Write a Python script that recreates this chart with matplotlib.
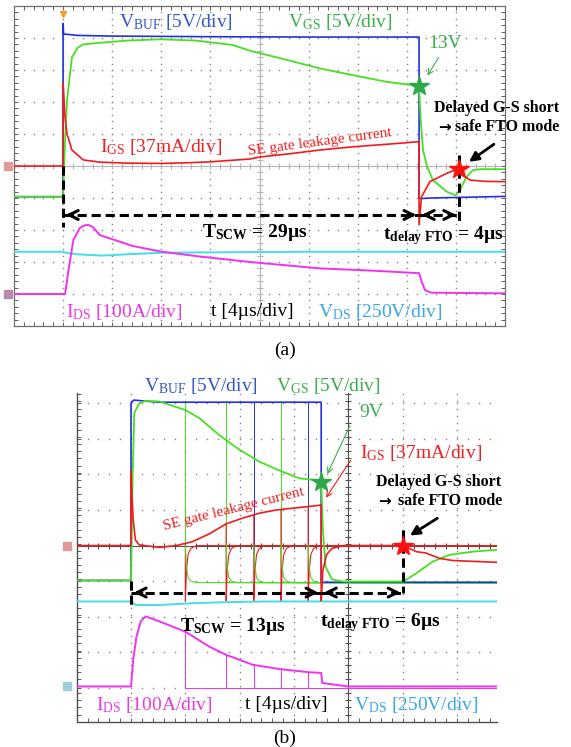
import numpy as np
import matplotlib
matplotlib.use('Agg')
from matplotlib import pyplot as plt

# ---- panel (a): all values in scope divisions (x: 0..10, y: -5..5) ----
A_VBUF_X = [0, 1.0, 1.0, 1.01, 1.05, 1.3, 2.0, 4.0, 6.0, 8.25, 8.25, 8.5, 10]
A_VBUF_Y = [-0.96, -0.96, 4.45, 4.12, 4.12, 4.08, 4.06, 4.04, 4.03, 4.03, -1.02, -1.0, -0.95]

A_VGS_X = [0, 1.0, 1.04, 1.08, 1.18, 1.3, 1.41, 1.75, 2.3, 3.0, 3.7, 4.46, 4.81, 5.34,
           6.23, 6.9, 7.59, 8.25, 8.28, 8.33, 8.41, 8.53, 8.81, 9.0, 9.1, 9.22, 9.35, 9.5, 10]
A_VGS_Y = [-0.96, -0.96, 0.8, 2.06, 3.4, 3.7, 3.8, 3.85, 3.92, 3.96, 3.92, 3.78, 3.6, 3.4,
           3.05, 2.84, 2.63, 2.5, 1.5, 0.5, 0.0, -0.44, -0.8, -0.92, -0.7, -0.33, -0.13, -0.1, -0.1]

A_IGS_X = [0, 1.0, 1.0, 1.04, 1.08, 1.18, 1.41, 1.75, 2.3, 3.01, 3.5, 4.0, 4.81, 5.0, 5.6,
           6.23, 6.9, 7.6, 8.25, 8.25, 8.3, 8.47, 8.81, 9.0, 9.06, 9.15, 9.29, 9.6, 10]
A_IGS_Y = [0, 0, 2.6, 1.5, 1.0, 0.5, 0.19, 0.12, 0.09, 0.08, 0.1, 0.13, 0.22, 0.28, 0.38,
           0.5, 0.6, 0.68, 0.76, -1.84, -0.96, -0.49, -0.23, -0.12, -0.1, -0.3, -0.44, -0.48, -0.49]

A_IDS_X = [0, 1.04, 1.11, 1.21, 1.34, 1.43, 1.51, 1.6, 1.75, 2.42, 3.01, 3.79, 4.81, 6.23,
           7.3, 8.25, 8.3, 8.37, 8.5, 10]
A_IDS_Y = [-4.0, -4.0, -3.25, -2.31, -1.94, -1.86, -1.84, -1.9, -2.16, -2.5, -2.68, -2.83,
           -3.0, -3.2, -3.27, -3.35, -3.6, -3.88, -3.96, -3.98]

A_VDS_X = [0, 1.0, 1.08, 1.3, 1.79, 2.42, 3.0, 4.8, 6.0, 10]
A_VDS_Y = [-2.68, -2.68, -2.72, -2.76, -2.8, -2.75, -2.71, -2.69, -2.68, -2.68]

A_STAR_VGS = (8.25, 2.5)
A_STAR_IGS = (9.06, -0.1)
A_T_ON, A_T_OFF, A_T_FTO = 1.0, 8.25, 9.06

# ---- panel (b): x relative to screen centre (-5..2.73), y -4.95..4.3 ----
B_VBUF_X = [-5, -4.0, -4.0, -3.95, -3.8, -3.5, -2.0, -0.5, -0.5, 0, 2.73]
B_VBUF_Y = [-0.98, -0.98, 4.0, 4.09, 4.07, 4.03, 4.03, 4.03, -1.03, -1.03, -1.03]

B_VGS_X = [-5, -4.0, -3.97, -3.94, -3.85, -3.73, -3.48, -3.0, -2.74, -2.38, -2.0, -1.64,
           -1.27, -0.9, -0.66, -0.5, -0.47, -0.42, -0.3, -0.1, 1.01, 1.25, 1.55, 1.86, 2.29, 2.73]
B_VGS_Y = [-0.98, -0.98, 2.0, 3.73, 4.0, 4.07, 4.05, 3.81, 3.58, 3.11, 2.69, 2.36,
           2.11, 1.89, 1.85, 1.8, 0.5, -0.6, -0.95, -1.01, -1.01, -0.78, -0.45, -0.26, -0.17, -0.12]

B_IGS_X = [-5, -4.0, -4.0, -3.98, -3.96, -3.92, -3.85, -3.48, -3.17, -2.87, -2.56, -2.25,
           -1.95, -1.64, -1.33, -1.03, -0.72, -0.5, -0.5, -0.47, -0.4, -0.3, -0.1, 1.01,
           1.25, 1.43, 1.68, 1.92, 2.73]
B_IGS_Y = [0, 0, 2.1, 1.3, 0.72, 0.16, 0.02, -0.05, 0, 0.11, 0.33, 0.61,
           0.77, 0.91, 1.0, 1.05, 1.1, 1.14, -1.55, -0.7, -0.25, -0.08, 0, 0,
           -0.17, -0.21, -0.36, -0.42, -0.47]

B_IDS_X = [-5, -4.0, -3.96, -3.9, -3.82, -3.73, -3.48, -3.0, -2.56, -2.25, -1.76, -1.27,
           -0.72, -0.5, -0.48, -0.3, 0, 2.73]
B_IDS_Y = [-3.96, -3.96, -3.21, -2.56, -2.13, -1.99, -2.13, -2.42, -2.84, -3.07, -3.35, -3.47,
           -3.56, -3.58, -3.86, -3.9, -3.96, -3.96]

B_VDS_X = [-5, -4.0, -3.91, -3.48, -2.87, -2.25, -1.5, 2.73]
B_VDS_Y = [-1.57, -1.57, -1.67, -1.67, -1.62, -1.59, -1.57, -1.57]

# shorter shots overlaid on the same screen
B_SHOT_OFF = [-3.0, -2.25, -1.74, -1.24, -0.74]
B_SHOT_IGS = [0.06, 0.61, 0.84, 1.0, 1.09]
B_SHOT_IDS = [-2.42, -3.07, -3.34, -3.47, -3.56]
B_SHOT_EDGE = ['green', 'green', 'blue', 'green', 'blue']
HOOK_DX = [0, 0, 0.02, 0.05, 0.1, 0.2]
HOOK_IGS = [None, -1.55, -0.7, -0.25, -0.08, 0.0]
HOOK_VGS = [None, 0.0, -0.6, -0.9, -1.0, -1.04]

B_STAR_VGS = (-0.5, 1.8)
B_STAR_IGS = (1.01, 0.0)
B_T_ON, B_T_OFF, B_T_FTO = -4.0, -0.5, 1.01

BLUE = '#2430e0'
GREEN = '#48de22'
RED = '#f01c1c'
MAGENTA = '#f032f0'
CYAN = '#44dde8'

plt.rcParams['font.family'] = ['Liberation Serif', 'DejaVu Serif']
plt.rcParams['mathtext.fontset'] = 'custom'
plt.rcParams['mathtext.rm'] = 'Liberation Serif'
plt.rcParams['mathtext.it'] = 'Liberation Serif:italic'
plt.rcParams['mathtext.bf'] = 'Liberation Serif:bold'


def grilla(ax, xs, ys, xc, yc, xlim, ylim, color_centro):
    yy = np.arange(ylim[0], ylim[1], 0.2)
    xx = np.arange(xlim[0], xlim[1], 0.2)
    for x in xs:
        if x != xc:
            ax.plot(np.full_like(yy, x), yy, ls='none', marker='s', ms=1.0, mew=0,
                    color='#858585', zorder=1)
    for y in ys:
        if y != yc:
            ax.plot(xx, np.full_like(xx, y), ls='none', marker='s', ms=1.0, mew=0,
                    color='#858585', zorder=1)
    ax.axvline(xc, color=color_centro, lw=0.8, zorder=1)
    ax.axhline(yc, color=color_centro, lw=0.8, zorder=1)
    ax.plot(np.full_like(yy, xc), yy, ls='none', marker='_', ms=5, mew=0.8, color=color_centro, zorder=1)
    ax.plot(xx, np.full_like(xx, yc), ls='none', marker='|', ms=5, mew=0.8, color=color_centro, zorder=1)
    ax.set_xlim(*xlim)
    ax.set_ylim(*ylim)
    ax.set_xticks(np.arange(np.ceil(xlim[0]), xlim[1], 1.0))
    ax.set_yticks(np.arange(np.ceil(ylim[0]), ylim[1], 1.0))
    ax.set_xticks(np.arange(xlim[0], xlim[1], 0.2), minor=True)
    ax.set_yticks(np.arange(ylim[0], ylim[1], 0.2), minor=True)
    ax.tick_params(which='both', direction='in', length=3, width=0.7,
                   labelbottom=False, labelleft=False, color='#606060')


def flecha_doble(ax, x0, x1, y, head=0.25):
    ax.plot([x0, x1], [y, y], color='black', lw=2.2, ls=(0, (3, 1.6)), zorder=6)
    ax.annotate('', xy=(x0, y), xytext=(x0 + head, y),
                arrowprops=dict(arrowstyle='->', lw=2.2, color='black', mutation_scale=16), zorder=6)
    ax.annotate('', xy=(x1, y), xytext=(x1 - head, y),
                arrowprops=dict(arrowstyle='->', lw=2.2, color='black', mutation_scale=16), zorder=6)


def linea_v(ax, x, y0, y1):
    ax.plot([x, x], [y0, y1], color='black', lw=2.2, ls=(0, (3, 1.6)), zorder=6)


def trazas(ax, vbuf, vgs, igs, ids, vds):
    ax.plot(*vds, color=CYAN, lw=1.4, zorder=3)
    ax.plot(*ids, color=MAGENTA, lw=1.4, zorder=3)
    ax.plot(*vbuf, color=BLUE, lw=1.2, zorder=4)
    ax.plot(*vgs, color=GREEN, lw=1.3, zorder=4)
    ax.plot(*igs, color=RED, lw=1.2, zorder=5)


def etiquetas(ax, pos, size=14):
    ax.text(*pos['vbuf'], 'V$_{\\mathrm{BUF}}$ [5V/div]', color='#3358c4', fontsize=size,
            ha='center', va='center', clip_on=False)
    ax.text(*pos['vgs'], 'V$_{\\mathrm{GS}}$ [5V/div]', color='#3aae4a', fontsize=size,
            ha='center', va='center', clip_on=False)
    ax.text(*pos['igs'], 'I$_{\\mathrm{GS}}$ [37mA/div]', color='#ee2020', fontsize=size, ha='center', va='center')
    ax.text(*pos['ids'], 'I$_{\\mathrm{DS}}$ [100A/div]', color='#e83ae0', fontsize=size, ha='center', va='center')
    ax.text(*pos['t'], 't [4µs/div]', color='black', fontsize=size, ha='center', va='center')
    ax.text(*pos['vds'], 'V$_{\\mathrm{DS}}$ [250V/div]', color='#3aa6e6', fontsize=size, ha='center', va='center')


def nota_fto(ax, x_arr, x_txt, x_flecha, y1, y2):
    ax.text(x_txt, y1, 'Delayed G-S short', fontsize=11.5, fontweight='bold',
            ha='center', va='center', clip_on=False)
    ax.text(x_flecha, y2, '→', fontsize=11, fontweight='bold', family='DejaVu Sans',
            ha='center', va='center', clip_on=False)
    ax.text(x_arr, y2, 'safe FTO mode', fontsize=11.5, fontweight='bold',
            ha='center', va='center', clip_on=False)


def panel_a(fig):
    ax = fig.add_axes([14 / 571, 1 - 326 / 747, 491 / 571, 320 / 747])
    grilla(ax, range(0, 11), range(-5, 6), 5, 0, (0, 10), (-5, 5), '#b5b5b5')
    for s in ax.spines.values():
        s.set_color('#707070')
        s.set_linewidth(0.9)
    ax.tick_params(which='both', top=True, right=True)

    trazas(ax, (A_VBUF_X, A_VBUF_Y), (A_VGS_X, A_VGS_Y), (A_IGS_X, A_IGS_Y),
           (A_IDS_X, A_IDS_Y), (A_VDS_X, A_VDS_Y))

    ax.plot(*A_STAR_VGS, marker='*', ms=15, color='#2ea84a', zorder=7)
    ax.plot(*A_STAR_IGS, marker='*', ms=15, color='#ff1010', zorder=7)

    linea_v(ax, A_T_ON, 0, -1.9)
    linea_v(ax, A_T_FTO, 0.35, -1.84)
    flecha_doble(ax, A_T_ON, A_T_OFF, -1.53)
    flecha_doble(ax, A_T_OFF, A_T_FTO, -1.53)

    # marcadores del osciloscopio
    ax.plot(-0.12, 0, marker='s', ms=6, color='#e09a9a', clip_on=False, zorder=8)
    ax.plot(-0.12, -4.0, marker='s', ms=6, color='#b88aa8', clip_on=False, zorder=8)
    ax.plot(A_T_ON, 4.75, marker='v', ms=5, color='#f0a020', clip_on=False, zorder=8)

    etiquetas(ax, {'vbuf': (3.29, 4.5), 'vgs': (6.64, 4.5), 'igs': (3.0, 0.59),
                   'ids': (2.24, -4.55), 't': (4.86, -4.55), 'vds': (7.46, -4.55)})
    ax.text(8.78, 3.84, '13V', color='#3cae50', fontsize=14, ha='center', va='center')
    ax.annotate('', xy=(8.39, 2.75), xytext=(8.68, 3.47),
                arrowprops=dict(arrowstyle='->', color='#3cae50', lw=0.8), zorder=7)
    ax.text(6.23, 0.75, 'SE gate leakage current', color='#ee2020', fontsize=11,
            ha='center', va='center', rotation=7.5)
    nota_fto(ax, 10.05, 9.82, 8.77, 1.81, 1.22)
    ax.annotate('', xy=(9.22, 0.08), xytext=(9.82, 0.73),
                arrowprops=dict(arrowstyle='-|>', color='black', lw=2, mutation_scale=14), zorder=8)
    ax.text(4.9, -2.09, 'T$_{\\mathbf{SCW}}$ = 29µs', fontsize=14, fontweight='bold', ha='center', va='center')
    ax.text(8.75, -2.16, 't$_{\\mathbf{delay\\ FTO}}$ = 4µs', fontsize=14, fontweight='bold',
            ha='center', va='center')
    fig.text(285 / 571, 1 - 350 / 747, '(a)', fontsize=14, ha='center', va='center')


def panel_b(fig):
    ax = fig.add_axes([76.7 / 571, 1 - 721.7 / 747, 420 / 571, (721.7 - 392.6) / 747])
    grilla(ax, range(-5, 3), range(-4, 5), 0, 0, (-5, 2.73), (-4.95, 4.3), '#505050')
    ax.spines['top'].set_visible(False)
    ax.spines['right'].set_visible(False)
    for s in ('left', 'bottom'):
        ax.spines[s].set_color('#505050')
        ax.spines[s].set_linewidth(1.0)

    # disparos mas cortos superpuestos
    for t, ig, idd, col in zip(B_SHOT_OFF, B_SHOT_IGS, B_SHOT_IDS, B_SHOT_EDGE):
        c = GREEN if col == 'green' else BLUE
        ax.plot([t, t], [4.03, -1.03], color=c, lw=0.7, zorder=3)
        ax.plot([t + d for d in HOOK_DX] + [2.73], [ig] + HOOK_IGS[1:] + [0], color=RED, lw=0.8, zorder=3)
        ax.plot([t + d for d in HOOK_DX[1:]] + [2.73], HOOK_VGS[1:] + [-1.05], color=GREEN, lw=0.8, zorder=3)
        ax.plot([t, t, 2.73], [idd, -4.0, -4.0], color=MAGENTA, lw=0.7, zorder=3)

    trazas(ax, (B_VBUF_X, B_VBUF_Y), (B_VGS_X, B_VGS_Y), (B_IGS_X, B_IGS_Y),
           (B_IDS_X, B_IDS_Y), (B_VDS_X, B_VDS_Y))

    ax.plot(*B_STAR_VGS, marker='*', ms=15, color='#2ea84a', zorder=7)
    ax.plot(*B_STAR_IGS, marker='*', ms=15, color='#ff1010', zorder=7)

    linea_v(ax, B_T_ON, -1.0, -1.71)
    linea_v(ax, B_T_FTO, 0.44, -1.34)
    flecha_doble(ax, B_T_ON, B_T_OFF, -1.32)
    flecha_doble(ax, B_T_OFF, B_T_FTO, -1.32)

    ax.plot(-5.17, 0, marker='s', ms=6, color='#e09a9a', clip_on=False, zorder=8)
    ax.plot(-5.17, -3.96, marker='s', ms=6, color='#9ad0d8', clip_on=False, zorder=8)

    etiquetas(ax, {'vbuf': (-2.72, 4.49), 'vgs': (-0.37, 4.49), 'igs': (1.33, 2.6),
                   'ids': (-3.57, -4.47), 't': (-1.14, -4.47), 'vds': (1.25, -4.47)})
    ax.text(0.43, 3.73, '9V', color='#3cae50', fontsize=14, ha='center', va='center')
    ax.annotate('', xy=(-0.41, 1.94), xytext=(0.05, 3.44),
                arrowprops=dict(arrowstyle='->', color='#3cae50', lw=0.8), zorder=7)
    ax.annotate('', xy=(-0.44, 1.28), xytext=(0.07, 2.46),
                arrowprops=dict(arrowstyle='->', color='#ee2020', lw=0.8), zorder=7)
    ax.text(-2.12, 1.03, 'SE gate leakage current', color='#ee2020', fontsize=11,
            ha='center', va='center', rotation=14)
    nota_fto(ax, 1.88, 1.66, 0.67, 1.8, 1.24)
    ax.annotate('', xy=(1.09, 0.24), xytext=(1.68, 0.81),
                arrowprops=dict(arrowstyle='-|>', color='black', lw=2, mutation_scale=14), zorder=8)
    ax.text(-2.13, -2.28, 'T$_{\\mathbf{SCW}}$ = 13µs', fontsize=14, fontweight='bold', ha='center', va='center')
    ax.text(0.58, -2.17, 't$_{\\mathbf{delay\\ FTO}}$ = 6µs', fontsize=14, fontweight='bold',
            ha='center', va='center')
    fig.text(285 / 571, 1 - 738 / 747, '(b)', fontsize=14, ha='center', va='center')


def main():
    fig = plt.figure(figsize=(5.71, 7.47), dpi=100)
    panel_a(fig)
    panel_b(fig)
    fig.savefig('out.png', dpi=100)


if __name__ == '__main__':
    main()
